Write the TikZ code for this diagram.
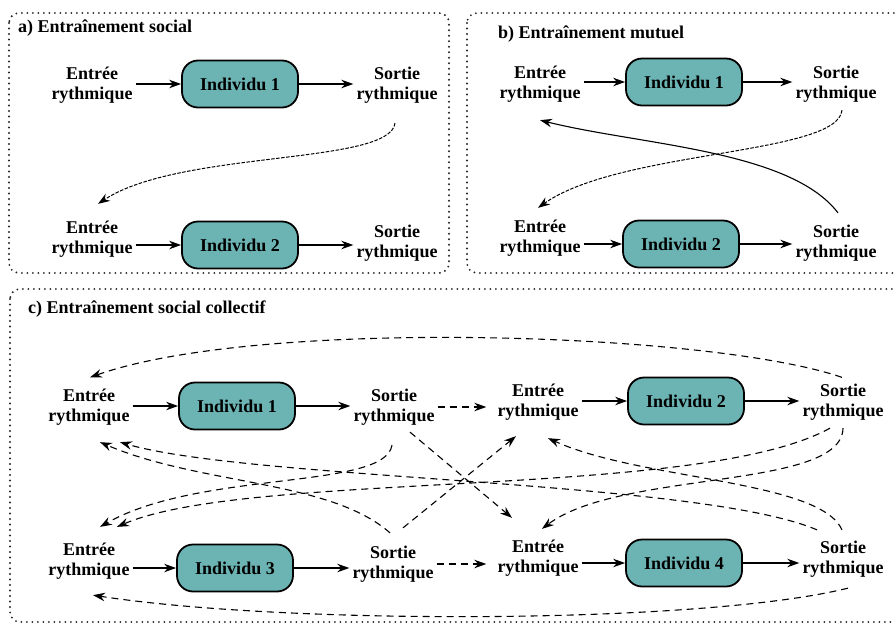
\documentclass[tikz,border=0pt]{standalone}
\usepackage{fontspec}
\setmainfont{Liberation Serif}
\usetikzlibrary{arrows.meta}

\definecolor{indivteal}{RGB}{108,180,180}

\begin{document}
\begin{tikzpicture}[x=1pt, y=-1pt,
  every node/.style={font=\bfseries\fontsize{18}{20.5}\selectfont},
  rythm/.style={align=center, inner sep=3pt},
  indiv/.style={draw=black, fill=indivteal, line width=1.8pt, rounded corners=16pt, minimum width=116pt, minimum height=47pt},
  panel/.style={draw=black!85, line width=2.1pt, dash pattern=on 0pt off 5.5pt, line cap=round, rounded corners=10pt},
  flow/.style={-{Stealth[length=12pt,width=8.5pt,inset=4pt]}, line width=1.1pt},
  fine/.style={flow, dash pattern=on 3.5pt off 1.5pt, line width=1pt},
  couple/.style={flow, dash pattern=on 7pt off 5pt}]
\useasboundingbox (0,0) rectangle (895,625);
\draw[panel] (9,13) rectangle (449,273);
\draw[panel] (467,13) rectangle (905,273);
\draw[panel] (10,289) rectangle (905,622);
\node[anchor=west, inner sep=0pt] (aTitle) at (18,28) {a) Entraînement social};
\node[anchor=west, inner sep=0pt] (bTitle) at (498,34) {b) Entraînement mutuel};
\node[anchor=west, inner sep=0pt] (cTitle) at (28,309) {c) Entraînement social collectif};
% a)
\node[rythm] (aE1) at (92,85) {Entrée\\rythmique};
\node[indiv] (aI1) at (240,84) {Individu 1};
\node[rythm] (aS1) at (397,85) {Sortie\\rythmique};
\node[rythm] (aE2) at (92,239) {Entrée\\rythmique};
\node[indiv] (aI2) at (240,245) {Individu 2};
\node[rythm] (aS2) at (397,243) {Sortie\\rythmique};
\path[flow] (aE1.east |- aI1) edge (aI1);
\path[flow] (aI1) edge (aS1.west |- aI1);
\path[flow] (aE2.east |- aI2) edge (aI2);
\path[flow] (aI2) edge (aS2.west |- aI2);
\draw[fine] ([shift={(-2,16.5)}]aS1.south) .. controls +(-5,42) and +(82,-54) .. ([shift={(6,-13.5)}]aE2.north);
% b)
\node[rythm] (bE1) at (540,84) {Entrée\\rythmique};
\node[indiv] (bI1) at (684,82) {Individu 1};
\node[rythm] (bS1) at (836,84) {Sortie\\rythmique};
\node[rythm] (bE2) at (540,238) {Entrée\\rythmique};
\node[indiv] (bI2) at (681,244) {Individu 2};
\node[rythm] (bS2) at (836,243) {Sortie\\rythmique};
\path[flow] (bE1.east |- bI1) edge (bI1);
\path[flow] (bI1) edge (bS1.west |- bI1);
\path[flow] (bE2.east |- bI2) edge (bI2);
\path[flow] (bI2) edge (bS2.west |- bI2);
\draw[fine] ([shift={(6,4.5)}]bS1.south) .. controls +(-4,45) and +(82,-58) .. ([shift={(-2,-8.5)}]bE2.north);
\draw[flow] ([shift={(2,-8.5)}]bS2.north) .. controls +(-48,-63) and +(100,25) .. ([shift={(0,14.5)}]bE1.south);
% c)
\node[rythm] (cE1) at (89,407) {Entrée\\rythmique};
\node[indiv] (cI1) at (237,406) {Individu 1};
\node[rythm] (cS1) at (394,407) {Sortie\\rythmique};
\node[rythm] (cE2) at (538,402) {Entrée\\rythmique};
\node[indiv] (cI2) at (686,401) {Individu 2};
\node[rythm] (cS2) at (843,402) {Sortie\\rythmique};
\node[rythm] (cE3) at (89,561) {Entrée\\rythmique};
\node[indiv] (cI3) at (235,568) {Individu 3};
\node[rythm] (cS3) at (393,564) {Sortie\\rythmique};
\node[rythm] (cE4) at (538,558) {Entrée\\rythmique};
\node[indiv] (cI4) at (684,563) {Individu 4};
\node[rythm] (cS4) at (843,559) {Sortie\\rythmique};
\path[flow] (cE1.east |- cI1) edge (cI1);
\path[flow] (cI1) edge (cS1.west |- cI1);
\path[flow] (cE2.east |- cI2) edge (cI2);
\path[flow] (cI2) edge (cS2.west |- cI2);
\path[flow] (cE3.east |- cI3) edge (cI3);
\path[flow] (cI3) edge (cS3.west |- cI3);
\path[flow] (cE4.east |- cI4) edge (cI4);
\path[flow] (cI4) edge (cS4.west |- cI4);
\draw[couple, shorten >=8pt] (cS1) -- (cS1 -| cE2.west);
\draw[couple, shorten >=8pt] (cS3) -- (cS3 -| cE4.west);
\draw[couple] ([shift={(-1,-3)}]cS2.north) .. controls +(-130,-45) and +(170,-60) .. ([shift={(1,-8)}]cE1.north);
\draw[couple] ([shift={(5,7.5)}]cS4.south) .. controls +(-145,36) and +(195,30) .. ([shift={(4,12.5)}]cE3.south);
\draw[couple] ([shift={(-2,16.5)}]cS1.south) .. controls +(-7,45) and +(100,-57) .. ([shift={(11,-12.5)}]cE3.north);
\draw[couple] ([shift={(-13,4.5)}]cS2.south) .. controls +(-130,72) and +(133,-57) .. ([shift={(28,-12.5)}]cE3.north);
\draw[couple] ([shift={(0,4.5)}]cS2.south) .. controls +(-1,62) and +(78,-59) .. ([shift={(4,-7.5)}]cE4.north);
\draw[couple] ([shift={(16,3.5)}]cS1.south) -- ([shift={(-26,-18.5)}]cE4.north);
\draw[couple] ([shift={(10,-14.5)}]cS3.north) -- ([shift={(-22,12.5)}]cE2.south);
\draw[couple] ([shift={(-3,-9.5)}]cS3.north) .. controls +(-60,-53) and +(100,43) .. ([shift={(11,13.5)}]cE1.south);
\draw[couple] ([shift={(-26,-7.5)}]cS4.north) .. controls +(-117,-50) and +(130,38) .. ([shift={(31,13.5)}]cE1.south);
\draw[couple] ([shift={(-1,-7.5)}]cS4.north) .. controls +(-22,-50) and +(92,42) .. ([shift={(10,14.5)}]cE2.south);
\end{tikzpicture}
\end{document}
